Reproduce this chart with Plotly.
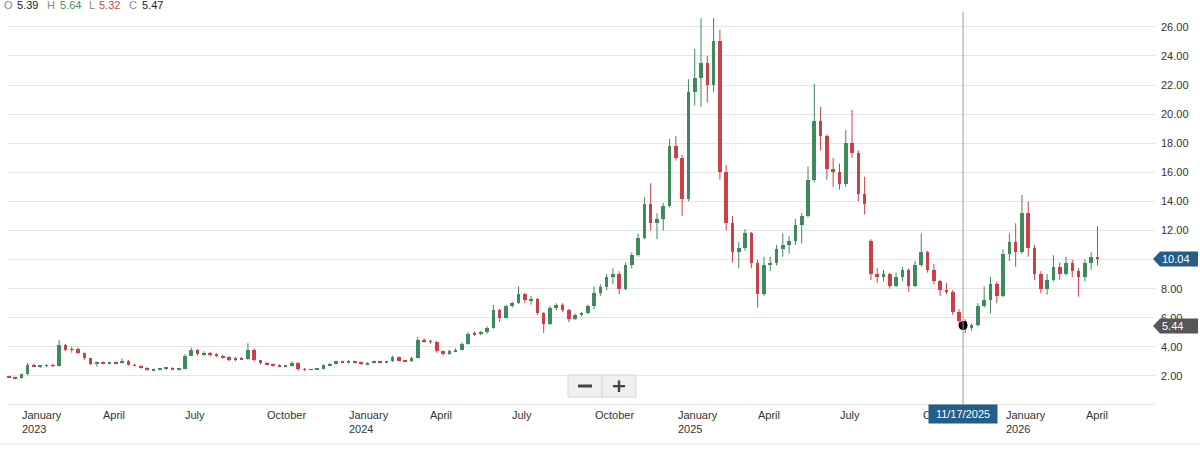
import plotly.graph_objects as go
import pandas as pd

# ---------------- data (weekly OHLC) ----------------
first_week = "2022-12-19"
open_ = [1.95, 1.9, 1.85, 2.1, 2.75, 2.65, 2.7, 2.75, 2.7, 4.1,
         3.8, 3.85, 3.55, 3.2, 2.8, 2.95, 2.85, 2.92, 2.88, 3.05,
         2.75, 2.7, 2.55, 2.4, 2.45, 2.5, 2.55, 2.45, 2.5, 3.4,
         3.8, 3.5, 3.6, 3.45, 3.4, 3.3, 3.1, 3.2, 3.15, 3.8,
         3.1, 2.9, 2.8, 2.7, 2.65, 2.7, 2.9, 2.45, 2.42, 2.46,
         2.5, 2.75, 2.85, 3.0, 2.95, 3.02, 2.95, 2.8, 2.9, 3.0,
         2.95, 3.0, 3.3, 3.05, 3.0, 3.25, 4.5, 4.4, 4.35, 3.7,
         3.5, 3.7, 3.8, 4.2, 4.9, 4.85, 5.0, 5.3, 6.5, 6.0,
         6.8, 7.0, 7.6, 7.2, 7.3, 6.3, 5.6, 6.7, 6.9, 6.5,
         5.9, 6.2, 6.3, 6.8, 7.7, 8.1, 8.8, 9.0, 8.0, 9.6,
         10.3, 11.5, 13.8, 12.5, 12.8, 13.7, 17.8, 17.0, 14.2, 21.5,
         22.5, 23.5, 22.0, 25.0, 16.0, 12.5, 10.5, 10.8, 11.8, 9.8,
         7.6, 9.6, 9.8, 10.7, 11.0, 11.3, 12.4, 13.0, 15.5, 19.5,
         18.5, 16.2, 16.0, 15.2, 18.0, 17.3, 14.5, 11.3, 9.0, 8.8,
         9.0, 8.2, 8.8, 9.3, 8.2, 9.6, 10.5, 9.3, 8.5, 7.9,
         7.8, 6.4, 5.8, 5.3, 5.5, 6.8, 7.2, 8.3, 7.5, 10.4,
         11.2, 10.5, 13.2, 10.8, 9.0, 8.0, 8.6, 9.5, 9.0, 9.8,
         9.2, 8.8, 9.8, 10.2]
high = [2.0, 1.95, 2.15, 2.9, 2.85, 2.75, 2.8, 2.85, 4.47, 4.2,
        4.0, 3.95, 3.6, 3.25, 3.0, 3.0, 2.95, 3.0, 3.2, 3.1,
        2.85, 2.75, 2.6, 2.5, 2.55, 2.6, 2.6, 2.55, 3.5, 3.95,
        3.85, 3.7, 3.65, 3.55, 3.45, 3.35, 3.3, 3.3, 4.25, 3.9,
        3.1, 2.95, 2.85, 2.8, 2.75, 3.0, 2.95, 2.55, 2.5, 2.55,
        2.8, 2.9, 3.05, 3.05, 3.1, 3.05, 3.0, 2.95, 3.05, 3.05,
        3.05, 3.4, 3.35, 3.1, 3.3, 4.7, 4.6, 4.5, 4.4, 3.75,
        3.8, 3.9, 4.3, 5.0, 5.05, 5.1, 5.4, 6.9, 6.6, 6.9,
        7.1, 8.15, 7.7, 7.5, 7.35, 6.4, 6.8, 7.0, 7.0, 6.6,
        6.3, 6.4, 6.9, 8.15, 8.3, 9.0, 9.4, 9.2, 9.8, 10.5,
        11.8, 14.3, 15.25, 13.2, 13.9, 18.3, 18.5, 17.2, 22.4, 24.5,
        26.6, 24.0, 26.6, 25.8, 16.5, 13.0, 11.2, 12.1, 11.9, 10.0,
        10.2, 10.2, 11.0, 11.8, 11.6, 12.8, 13.2, 16.4, 22.1, 20.5,
        18.6, 17.0, 16.6, 18.9, 20.3, 17.5, 15.7, 11.4, 9.4, 9.3,
        9.1, 9.1, 9.5, 9.4, 9.9, 11.8, 10.6, 9.7, 8.6, 8.4,
        7.9, 6.6, 5.9, 5.6, 7.0, 8.15, 8.8, 8.5, 10.7, 11.8,
        12.5, 14.45, 14.0, 11.0, 9.2, 9.0, 10.3, 9.8, 10.2, 10.0,
        9.4, 10.0, 10.5, 12.3]
low = [1.85, 1.78, 1.82, 2.05, 2.6, 2.55, 2.6, 2.6, 2.65, 3.7,
       3.6, 3.5, 3.1, 2.75, 2.65, 2.8, 2.8, 2.8, 2.85, 2.7,
       2.65, 2.5, 2.35, 2.35, 2.4, 2.4, 2.4, 2.4, 2.45, 3.35,
       3.4, 3.35, 3.35, 3.3, 3.2, 3.0, 3.0, 3.1, 3.1, 3.0,
       2.8, 2.75, 2.65, 2.6, 2.6, 2.65, 2.35, 2.35, 2.38, 2.4,
       2.45, 2.7, 2.8, 2.9, 2.9, 2.85, 2.75, 2.75, 2.85, 2.9,
       2.9, 2.95, 3.0, 2.95, 2.95, 3.2, 4.3, 4.2, 3.6, 3.4,
       3.45, 3.65, 3.75, 4.15, 4.75, 4.8, 4.9, 5.25, 5.7, 5.95,
       6.7, 6.95, 7.0, 6.9, 6.2, 4.95, 5.5, 6.5, 6.4, 5.7,
       5.85, 6.1, 6.25, 6.6, 7.5, 7.9, 8.3, 7.6, 7.9, 9.4,
       10.2, 11.4, 12.0, 11.4, 12.0, 13.6, 16.8, 13.0, 14.0, 20.6,
       20.5, 20.8, 21.5, 15.5, 12.0, 9.8, 9.4, 10.6, 9.4, 6.7,
       7.5, 9.2, 9.6, 10.2, 10.4, 11.0, 11.1, 12.9, 15.3, 17.5,
       15.5, 15.0, 14.8, 15.0, 17.0, 14.0, 13.1, 8.6, 8.4, 8.5,
       8.0, 8.1, 8.5, 7.8, 8.1, 9.5, 9.1, 8.3, 7.5, 7.6,
       6.2, 5.6, 4.95, 5.1, 5.4, 6.7, 6.3, 7.0, 7.4, 9.9,
       9.5, 10.4, 10.2, 8.6, 7.7, 7.6, 8.5, 8.6, 8.9, 8.8,
       7.45, 8.5, 9.3, 9.6]
close = [1.9, 1.85, 2.1, 2.75, 2.65, 2.7, 2.75, 2.7, 4.1, 3.8,
         3.85, 3.55, 3.2, 2.8, 2.95, 2.85, 2.9, 2.88, 3.05, 2.75,
         2.7, 2.55, 2.4, 2.45, 2.5, 2.55, 2.45, 2.5, 3.4, 3.8,
         3.5, 3.6, 3.45, 3.4, 3.3, 3.1, 3.2, 3.15, 3.8, 3.1,
         2.9, 2.8, 2.7, 2.65, 2.7, 2.9, 2.45, 2.42, 2.46, 2.5,
         2.75, 2.85, 3.0, 2.95, 3.02, 2.95, 2.8, 2.9, 3.0, 2.95,
         3.0, 3.3, 3.05, 3.0, 3.25, 4.5, 4.4, 4.35, 3.7, 3.5,
         3.7, 3.8, 4.2, 4.9, 4.85, 5.0, 5.3, 6.5, 6.0, 6.8,
         7.0, 7.6, 7.2, 7.3, 6.3, 5.6, 6.7, 6.9, 6.5, 5.9,
         6.2, 6.3, 6.8, 7.7, 8.1, 8.8, 9.0, 8.0, 9.6, 10.3,
         11.5, 13.8, 12.5, 12.8, 13.7, 17.8, 17.0, 14.2, 21.5, 22.5,
         23.5, 22.0, 25.0, 16.0, 12.5, 10.5, 10.8, 11.8, 9.8, 7.6,
         9.6, 9.8, 10.7, 11.0, 11.3, 12.4, 13.0, 15.5, 19.5, 18.5,
         16.2, 16.0, 15.2, 18.0, 17.3, 14.5, 13.8, 9.0, 8.8, 9.0,
         8.2, 8.8, 9.3, 8.2, 9.6, 10.5, 9.3, 8.5, 7.9, 7.8,
         6.4, 5.8, 5.3, 5.5, 6.8, 7.2, 8.3, 7.5, 10.4, 11.2,
         10.5, 13.2, 10.8, 9.0, 8.0, 8.6, 9.5, 9.0, 9.8, 9.2,
         8.8, 9.8, 10.2, 10.04]

cross_date = "2025-11-17"
cross_ohlc = {"O": 5.39, "H": 5.64, "L": 5.32, "C": 5.47}
cross_price = 5.44
last_price = close[-1]

month_dates = ["2023-01-03", "2023-04-03", "2023-07-03", "2023-10-02",
               "2024-01-02", "2024-04-01", "2024-07-01", "2024-10-01",
               "2025-01-02", "2025-04-01", "2025-07-01", "2025-10-01",
               "2026-01-02", "2026-04-01"]
month_labels = ["January<br>2023", "April", "July", "October",
                "January<br>2024", "April", "July", "October",
                "January<br>2025", "April", "July", "October",
                "January<br>2026", "April"]
y_ticks = [2, 4, 6, 8, 10, 12, 14, 16, 18, 20, 22, 24, 26]

# ---------------- style ----------------
UP = "#3f8a5e"
DOWN = "#cc4048"
FONT = "Arial, Liberation Sans, sans-serif"
W, H = 1200, 449
ML, MR, MT, MB = 7, 45, 0, 45
PW, PH = W - ML - MR, H - MT - MB


def pxx(px):
    return (px - ML) / PW


def pxy(py):
    return (H - MB - py) / PH


n = len(close)
xdates = pd.date_range(first_week, periods=n, freq="7D") + pd.Timedelta(hours=60)

fig = go.Figure()
day_ms = 86400000
for is_up, col in ((True, UP), (False, DOWN)):
    idx = [i for i in range(n) if (close[i] >= open_[i]) == is_up]
    wx, wy = [], []
    for i in idx:
        wx += [xdates[i], xdates[i], None]
        wy += [low[i], high[i], None]
    fig.add_trace(go.Scatter(x=wx, y=wy, mode="lines",
                             line=dict(color=col, width=1),
                             hoverinfo="skip", showlegend=False))
    fig.add_trace(go.Bar(x=[xdates[i] for i in idx],
                         base=[min(open_[i], close[i]) for i in idx],
                         y=[max(abs(close[i] - open_[i]), 0.05) for i in idx],
                         width=4.0 * day_ms,
                         marker=dict(color=col, line=dict(width=0)),
                         hoverinfo="skip", showlegend=False))

# crosshair dot
fig.add_trace(go.Scatter(x=[cross_date], y=[cross_ohlc["C"]], mode="markers",
                         marker=dict(color="black", size=9),
                         hoverinfo="skip", showlegend=False))

annotations = []
# header
hdr = [("O", 4, "#8a8a8a"), (f"{cross_ohlc['O']:.2f}", 17, "#222222"),
       ("H", 47, "#8a8a8a"), (f"{cross_ohlc['H']:.2f}", 60, "#4a8a5c"),
       ("L", 89, "#8a8a8a"), (f"{cross_ohlc['L']:.2f}", 99, "#d04848"),
       ("C", 129, "#8a8a8a"), (f"{cross_ohlc['C']:.2f}", 142, "#222222")]
for txt, px, col in hdr:
    annotations.append(dict(text=txt, xref="paper", yref="paper",
                            x=pxx(px - 2), y=pxy(5), xanchor="left", yanchor="middle",
                            showarrow=False, font=dict(family=FONT, size=11, color=col)))
# x month labels
for d, lab in zip(month_dates, month_labels):
    annotations.append(dict(text=lab, xref="x", yref="paper", x=d, y=0,
                            xanchor="left", yanchor="top", yshift=-3, align="left",
                            showarrow=False, font=dict(family=FONT, size=11, color="#333333")))
# crosshair date box
annotations.append(dict(text=pd.Timestamp(cross_date).strftime("%m/%d/%Y"),
                        xref="x", yref="paper", x=cross_date, y=0,
                        xanchor="center", yanchor="top", showarrow=False,
                        width=66, height=16, borderpad=1, bgcolor="#235e88",
                        font=dict(family=FONT, size=11, color="white")))

shapes = []
# bottom full-width rule
shapes.append(dict(type="line", xref="paper", yref="paper", x0=pxx(0), x1=pxx(W),
                   y0=pxy(444), y1=pxy(444), line=dict(color="#e3e3e3", width=1)))
# crosshair line
shapes.append(dict(type="line", xref="x", yref="paper", x0=cross_date, x1=cross_date,
                   y0=0, y1=pxy(12), line=dict(color="#9a9a9a", width=1), layer="above"))
# price tags
h = 7.5 * (27.85 - 0.07) / PH
for val, col in ((last_price, "#245f8a"), (cross_price, "#575757")):
    path = (f"M {pxx(1153)},{val} L {pxx(1160)},{val + h} L {pxx(1198)},{val + h} "
            f"L {pxx(1198)},{val - h} L {pxx(1160)},{val - h} Z")
    shapes.append(dict(type="path", xref="paper", yref="y", path=path,
                       fillcolor=col, line=dict(width=0), layer="above"))
    annotations.append(dict(text=f"{val:.2f}", xref="paper", yref="y", x=pxx(1160), y=val,
                            xanchor="left", yanchor="middle", showarrow=False,
                            font=dict(family=FONT, size=11, color="white")))
# zoom buttons
for x0, x1 in ((568, 602), (602, 636)):
    shapes.append(dict(type="rect", xref="paper", yref="paper",
                       x0=pxx(x0), x1=pxx(x1), y0=pxy(397), y1=pxy(375),
                       fillcolor="#f0f0f0", line=dict(color="#d6d6d6", width=1), layer="above"))
for x0, x1, y0, y1 in ((578, 592, 384.5, 387.5), (613, 625, 385, 387.3), (617.8, 620.2, 380.5, 392)):
    shapes.append(dict(type="rect", xref="paper", yref="paper",
                       x0=pxx(x0), x1=pxx(x1), y0=pxy(y1), y1=pxy(y0),
                       fillcolor="#444444", line=dict(width=0), layer="above"))

fig.update_layout(
    width=W, height=H, margin=dict(l=ML, r=MR, t=MT, b=MB),
    paper_bgcolor="white", plot_bgcolor="white", showlegend=False,
    barmode="overlay", bargap=0,
    xaxis=dict(type="date", range=["2022-12-19 12:00", "2026-06-18 12:00"],
               showgrid=False, showticklabels=False, ticks="", zeroline=False,
               showline=True, linecolor="#e3e3e3", linewidth=1, fixedrange=True),
    yaxis=dict(side="right", range=[0.07, 27.85], tickvals=y_ticks,
               ticktext=[f"{v:.2f}" for v in y_ticks], showgrid=True, gridcolor="#e6e6e6",
               gridwidth=1, ticks="", zeroline=False, showline=False,
               ticklabelstandoff=5,
               tickfont=dict(family=FONT, size=11, color="#333333"), fixedrange=True),
    annotations=annotations, shapes=shapes,
    font=dict(family=FONT),
)

fig.write_html("out.html")
